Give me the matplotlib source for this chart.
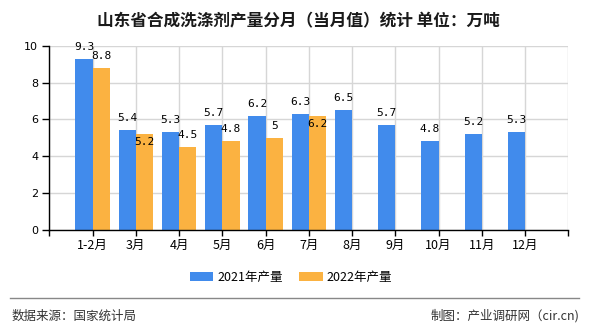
import matplotlib
matplotlib.use("Agg")
import matplotlib.pyplot as plt
from matplotlib.patches import Patch
from matplotlib.lines import Line2D
import numpy as np

plt.rcParams["font.family"] = ["Noto Sans CJK SC", "DejaVu Sans"]

months = ["1-2月", "3月", "4月", "5月", "6月", "7月", "8月", "9月", "10月", "11月", "12月"]
prod_2021 = [9.3, 5.4, 5.3, 5.7, 6.2, 6.3, 6.5, 5.7, 4.8, 5.2, 5.3]
prod_2022 = [8.8, 5.2, 4.5, 4.8, 5, 6.2]
label_2021 = ["9.3", "5.4", "5.3", "5.7", "6.2", "6.3", "6.5", "5.7", "4.8", "5.2", "5.3"]
label_2022 = ["8.8", "5.2", "4.5", "4.8", "5", "6.2"]

title = "山东省合成洗涤剂产量分月（当月值）统计 单位：万吨"
source = "数据来源：国家统计局"
credit = "制图：产业调研网（cir.cn)"

BLUE = "#418bec"
ORANGE = "#fbb241"
GRID = "#d6d6d6"

fig = plt.figure(figsize=(5.9, 3.3), dpi=100)
ax = fig.add_axes([49.3 / 590, 1 - 229.5 / 330, (568.3 - 49.3) / 590, (229.5 - 46) / 330])

x = np.arange(1, len(months) + 1)
bw = 0.4
ax.bar(x, prod_2021, width=-bw, align="edge", color=BLUE, zorder=2)
x22 = x[: len(prod_2022)]
ax.bar(x22, prod_2022, width=bw, align="edge", color=ORANGE, zorder=2)

px = 72 / 100  # points per pixel
for xi, v, t in zip(x, prod_2021, label_2021):
    ax.annotate(t, (xi - bw / 2, v), xytext=(0, 12 * px), textcoords="offset points",
                ha="center", va="center", fontsize=8, family="DejaVu Sans Mono", zorder=4)
for xi, v, v1, t in zip(x22, prod_2022, prod_2021, label_2022):
    # move label into the bar top when it would collide with the 2021 label
    dy = -8 if (v1 - v) < 0.3 else 12
    ax.annotate(t, (xi + bw / 2, v), xytext=(0, dy * px), textcoords="offset points",
                ha="center", va="center", fontsize=8, family="DejaVu Sans Mono", zorder=4)

ax.set_xlim(0, 12)
ax.set_ylim(0, 10)
ax.set_yticks([0, 2, 4, 6, 8, 10])
ax.set_yticklabels(["0", "2", "4", "6", "8", "10"], family="DejaVu Sans", fontsize=8)
ax.set_xticks(np.arange(0, 13))
ax.set_xticklabels([""] + months + [""], fontsize=9)
ax.tick_params(axis="y", length=5, width=1, pad=3, colors="black")
ax.tick_params(axis="x", length=4, width=1, pad=3, colors="black")

ax.grid(True, color=GRID, linewidth=1)
ax.set_axisbelow(True)
for s in ["top", "right"]:
    ax.spines[s].set_visible(False)
for s in ["left", "bottom"]:
    ax.spines[s].set_color("black")
    ax.spines[s].set_linewidth(1)

fig.text(298 / 590, 1 - 21 / 330, title, ha="center", va="center", fontsize=12,
         fontweight="bold", color="#1a1a1a")

handles = [Patch(facecolor=BLUE, label="2021年产量"), Patch(facecolor=ORANGE, label="2022年产量")]
fig.legend(handles=handles, loc="center", bbox_to_anchor=(291 / 590, 1 - 277 / 330), ncol=2,
           frameon=False, fontsize=9, handlelength=1.85, handleheight=0.75,
           handletextpad=0.35, columnspacing=1.35)

fig.add_artist(Line2D([10 / 590, 579 / 590], [1 - 297.5 / 330] * 2, color="#888888", linewidth=1))
fig.text(12 / 590, 1 - 316 / 330, source, ha="left", va="center", fontsize=9, color="#333333")
fig.text(579 / 590, 1 - 316 / 330, credit, ha="right", va="center", fontsize=9, color="#333333")

fig.savefig("out.png", dpi=100)
